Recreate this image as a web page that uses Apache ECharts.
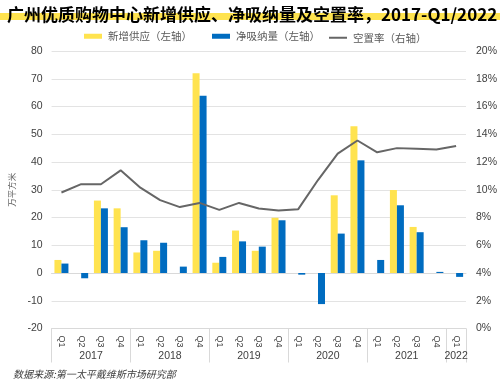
<!DOCTYPE html>
<html><head><meta charset="utf-8">
<script src="https://cdn.jsdelivr.net/npm/echarts@6/dist/echarts.min.js"></script>
<style>html,body{margin:0;padding:0;background:#fff}#c{width:500px;height:382px}</style>
</head><body><div id="c"></div>
<script>
const quarters = ['Q1','Q2','Q3','Q4','Q1','Q2','Q3','Q4','Q1','Q2','Q3','Q4','Q1','Q2','Q3','Q4','Q1','Q2','Q3','Q4','Q1'];
const years = ['2017','2018','2019','2020','2021','2022'];
const quartersPerYear = [4,4,4,4,4,1];
const supply = [4.7, 0, 26.1, 23.3, 7.4, 8.0, 0, 72.0, 3.7, 15.3, 8.0, 19.9, 0, 0, 28.0, 52.9, 0, 29.9, 16.6, 0, 0];
const absorption = [3.4, -1.9, 23.3, 16.5, 11.8, 10.9, 2.3, 63.9, 5.8, 11.4, 9.5, 19.0, -0.6, -11.2, 14.2, 40.6, 4.7, 24.4, 14.7, 0.4, -1.4];
const vacancy = [9.8, 10.4, 10.4, 11.4, 10.15, 9.25, 8.75, 9.05, 8.55, 9.05, 8.65, 8.5, 8.6, 10.7, 12.6, 13.55, 12.7, 13.0, 12.95, 12.9, 13.15];
const seriesNames = ['新增供应（左轴）', '净吸纳量（左轴）', '空置率（右轴）'];
const leftTicks = {min: -20, max: 80, interval: 10};
const rightTicks = {min: 0, max: 20, interval: 2};

// year group boundaries and centres (in quarter units)
const bounds = [0]; const centres = [];
quartersPerYear.forEach(n => { const s = bounds[bounds.length-1]; centres.push(s + n/2); bounds.push(s + n); });
const total = bounds[bounds.length-1];

const chart = echarts.init(document.getElementById('c'));
const axisFont = 'Liberation Sans, Arial, sans-serif';
const cjk = '"Noto Sans CJK SC", sans-serif';
const legendBase = {top: 26, itemWidth: 18, itemHeight: 5, itemGap: 0,
  textStyle: {fontSize: 10.5, color: '#595959', fontFamily: cjk, padding: [0,0,0,1]}};
chart.setOption({
  animation: false,
  title: [
    {text: '广州优质购物中心新增供应、净吸纳量及空置率，2017-Q1/2022', left: 2, top: 1,
     textStyle: {fontSize: 17, fontWeight: 'bold', color: '#000', fontFamily: cjk}},
    {text: '数据来源:第一太平戴维斯市场研究部', left: 8, top: 364,
     textStyle: {fontSize: 10, fontStyle: 'italic', fontWeight: 'normal', color: '#404040', fontFamily: cjk}}
  ],
  graphic: [
    {type: 'rect', shape: {x: 0, y: 13, width: 500, height: 7}, style: {fill: '#FFE34F'}, z: 0}
  ],
  legend: [
    Object.assign({}, legendBase, {left: 79, data: [{name: seriesNames[0], icon: 'rect'}]}),
    Object.assign({}, legendBase, {left: 207, data: [{name: seriesNames[1], icon: 'rect'}]}),
    Object.assign({}, legendBase, {left: 324, top: 27.5, itemHeight: 2,
      data: [{name: seriesNames[2], icon: 'rect', itemStyle: {color: '#666666'}}]})
  ],
  grid: {left: 45, right: 34, top: 51, bottom: 53.5},
  xAxis: [
    {type: 'category', data: quarters, position: 'bottom',
     axisLine: {show: true, lineStyle: {color: '#d9d9d9'}}, axisTick: {show: false},
     axisLabel: {interval: 0, rotate: -90, margin: 7, fontSize: 9, color: '#404040', fontFamily: axisFont}},
    {type: 'value', min: 0, max: total, position: 'bottom', splitLine: {show: false},
     axisLine: {show: true, lineStyle: {color: '#d9d9d9'}},
     axisTick: {show: true, customValues: bounds, length: 34, lineStyle: {color: '#d9d9d9'}},
     axisLabel: {customValues: centres, margin: 22, fontSize: 10.5, color: '#404040', fontFamily: axisFont,
       formatter: (v) => { const i = centres.indexOf(v); return i >= 0 ? years[i] : ''; }}}
  ],
  yAxis: [
    {type: 'value', min: leftTicks.min, max: leftTicks.max, interval: leftTicks.interval,
     name: '万平方米', nameLocation: 'middle', nameGap: 32,
     nameTextStyle: {fontSize: 8.5, color: '#595959', fontFamily: cjk},
     axisLine: {show: false}, axisTick: {show: false},
     splitLine: {lineStyle: {color: '#e3e3e3', width: 1}},
     axisLabel: {margin: 9, fontSize: 10.5, color: '#404040', fontFamily: axisFont}},
    {type: 'value', min: rightTicks.min, max: rightTicks.max, interval: rightTicks.interval,
     axisLine: {show: false}, axisTick: {show: false}, splitLine: {show: false},
     axisLabel: {margin: 10, fontSize: 10.5, color: '#404040', fontFamily: axisFont, formatter: '{value}%'}}
  ],
  series: [
    {name: seriesNames[0], type: 'bar', data: supply, barWidth: 7, barGap: '0%',
     itemStyle: {color: '#FFE34F'}, xAxisIndex: 0, yAxisIndex: 0},
    {name: seriesNames[1], type: 'bar', data: absorption, barWidth: 7, barGap: '0%',
     itemStyle: {color: '#006CC0'}, xAxisIndex: 0, yAxisIndex: 0},
    {name: seriesNames[2], type: 'line', data: vacancy, symbol: 'none', xAxisIndex: 0, yAxisIndex: 1,
     lineStyle: {color: '#666666', width: 2}, itemStyle: {color: '#666666'}, z: 5}
  ]
});
</script></body></html>
